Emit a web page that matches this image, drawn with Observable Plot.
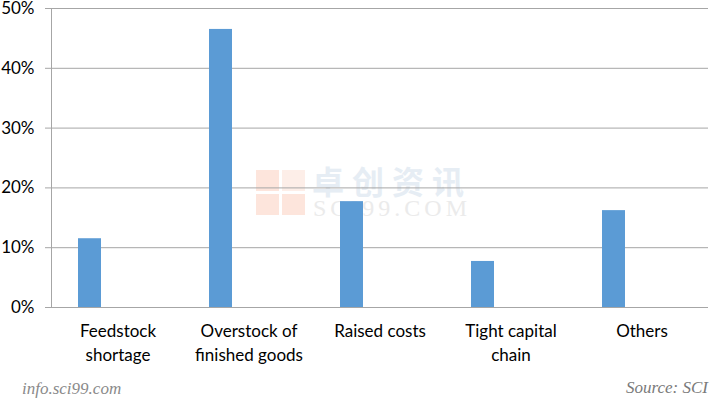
<!DOCTYPE html>
<html><head><meta charset="utf-8">
<script src="https://cdn.jsdelivr.net/npm/d3@7"></script>
<script src="https://cdn.jsdelivr.net/npm/@observablehq/plot@0.6"></script>
<style>
body{margin:0;background:#fff;}
#wrap{position:relative;width:718px;height:400px;overflow:hidden;font-family:Lato,sans-serif;}
#wrap svg{position:absolute;left:0;top:0;}
.wm{position:absolute;white-space:nowrap;}
.sq{position:absolute;background:#fde5dc;}
</style>
</head><body>
<div id="wrap">
  <div class="sq" style="left:256px;top:170px;width:23px;height:21px;"></div>
  <div class="sq" style="left:282px;top:170px;width:23px;height:21px;background:#fdeee8;"></div>
  <div class="sq" style="left:256px;top:194px;width:23px;height:21px;"></div>
  <div class="sq" style="left:282px;top:194px;width:23px;height:21px;"></div>
  <div class="wm" style="left:312px;top:164px;font-family:'Noto Sans CJK SC';font-weight:bold;font-size:32px;letter-spacing:8px;color:#e6edf4;line-height:32px;height:32px;">卓创资讯</div>
  <div class="wm" style="left:313px;top:199px;font-family:'Liberation Serif',serif;font-size:24px;color:#ebebeb;line-height:18px;height:18px;letter-spacing:4px;">SCI99.COM</div>
  <div class="wm" style="left:22px;top:379px;font-family:'Liberation Serif',serif;font-style:italic;font-size:17px;color:#8a8a8a;">info.sci99.com</div>
  <div class="wm" style="left:626px;top:378px;font-family:'Liberation Serif',serif;font-style:italic;font-size:17px;color:#7a7a7a;">Source: SCI</div>
</div>
<script>
const categories = ["Feedstock shortage","Overstock of finished goods","Raised costs","Tight capital chain","Others"];
const tickLabels = ["Feedstock\nshortage","Overstock of\nfinished goods","Raised costs","Tight capital\nchain","Others"];
const shares = [0.115, 0.465, 0.177, 0.077, 0.162];
const yTicks = [0, 0.1, 0.2, 0.3, 0.4, 0.5];

const data = categories.map((c, i) => ({category: c, share: shares[i]}));

const chart = Plot.plot({
  width: 718,
  height: 400,
  marginLeft: 51,
  marginRight: 10,
  marginTop: 8,
  marginBottom: 93,
  style: {background: "transparent", fontFamily: "Lato, sans-serif", fontSize: "17px", color: "#000"},
  x: {domain: categories, padding: 0, label: null},
  y: {domain: [0, 0.5], label: null},
  marks: [
    Plot.gridY(yTicks, {stroke: "#a6a6a6", strokeOpacity: 1}),
    Plot.frame({anchor: "left", stroke: "#a6a6a6"}),
    Plot.axisY(yTicks, {tickFormat: d3.format(".0%"), tickSize: 6, tickPadding: 11, stroke: "#a6a6a6", fill: "#000", label: null}),
    Plot.axisX({tickSize: 0, tickPadding: 13, lineHeight: 1.38, fill: "#000", label: null,
      tickFormat: d => tickLabels[categories.indexOf(d)]}),
    Plot.barY(data, {x: "category", y: "share", fill: "#5b9bd5", insetLeft: 26, insetRight: 82})
  ]
});
document.getElementById("wrap").appendChild(chart);
</script>
</body></html>
